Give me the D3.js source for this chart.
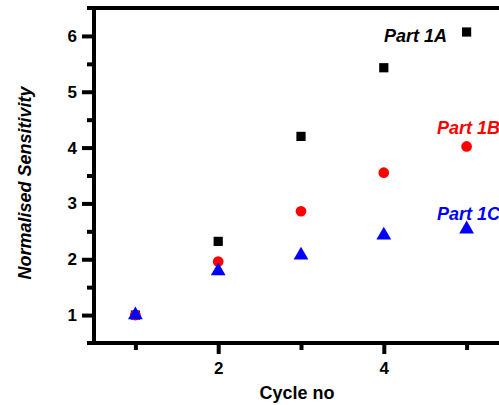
<!DOCTYPE html>
<html>
<head>
<meta charset="utf-8">
<script src="https://cdn.jsdelivr.net/npm/d3@7.9.0/dist/d3.min.js"></script>
<style>
  body { margin: 0; background: #fff; }
  text { font-family: "Liberation Sans", Arial, sans-serif; font-weight: bold; }
</style>
</head>
<body>
<svg id="chart" width="499" height="405"></svg>
<script>
// data
const cycles = [1, 2, 3, 4, 5];
const part1A = [1.0, 2.32, 4.2, 5.43, 6.07];
const part1B = [1.0, 1.96, 2.86, 3.55, 4.02];
const part1C = [1.0, 1.79, 2.07, 2.43, 2.54];
const seriesNames = ['Part 1A', 'Part 1B', 'Part 1C'];
const seriesColors = ['#000000', '#ff0000', '#0000ff'];
const yTicks = [1, 2, 3, 4, 5, 6];
const xTicks = [2, 4];

const svg = d3.select('#chart');
const mLeft = 94, mTop = 8, mBottom = 343, mRight = 508;
const lw = 4;

const x = d3.scaleLinear().domain([0.5, 5.5]).range([mLeft, mRight]);
const y = d3.scaleLinear().domain([0.5, 6.5]).range([mBottom, mTop]);

function styleAxis(g) {
  g.selectAll('.domain').remove();
  g.selectAll('line').style('stroke', '#000').style('stroke-width', lw + 'px');
  g.selectAll('text').attr('fill', '#000')
    .style('font-family', '"Liberation Sans", Arial, sans-serif')
    .style('font-weight', 'bold')
    .style('font-size', '17px');
}

// y axis
const yAxis = svg.append('g').attr('transform', `translate(${mLeft},0)`);
yAxis.call(d3.axisLeft(y).tickValues(yTicks).tickSize(12).tickPadding(5).tickFormat(d3.format('d')));
yAxis.append('g').call(d3.axisLeft(y).tickValues(yTicks.slice(0, 5).map(d => d + 0.5)).tickSize(7).tickFormat(''));
styleAxis(yAxis);

// x axis
const xAxis = svg.append('g').attr('transform', `translate(0,${mBottom})`);
xAxis.call(d3.axisBottom(x).tickValues(xTicks).tickSize(11).tickPadding(8).tickFormat(d3.format('d')));
xAxis.append('g').call(d3.axisBottom(x).tickValues([1, 3, 5]).tickSize(7).tickFormat(''));
styleAxis(xAxis);

// frame lines as filled rects
svg.append('rect')
  .attr('x', mLeft - 7).attr('y', mTop - lw / 2)
  .attr('width', 499 - mLeft + 7).attr('height', lw).attr('fill', '#000');
svg.append('rect')
  .attr('x', mLeft - 7).attr('y', mBottom - lw / 2)
  .attr('width', 499 - mLeft + 7).attr('height', lw).attr('fill', '#000');
svg.append('rect')
  .attr('x', mLeft - lw / 2).attr('y', mTop - lw / 2)
  .attr('width', lw).attr('height', mBottom - mTop + lw).attr('fill', '#000');

// axis titles
svg.append('text')
  .attr('transform', `translate(31,${183}) rotate(-90)`)
  .attr('text-anchor', 'middle')
  .attr('font-size', 18)
  .attr('font-style', 'italic')
  .text('Normalised Sensitivity');

svg.append('text')
  .attr('x', 297).attr('y', 399)
  .attr('text-anchor', 'middle')
  .attr('font-size', 18)
  .text('Cycle no');

// markers
const symbols = [d3.symbolSquare, d3.symbolCircle, d3.symbolTriangle];
const sizes = [85, 90, 95];
const allSeries = [part1A, part1B, part1C];

allSeries.forEach((vals, i) => {
  svg.append('g').selectAll('path')
    .data(vals)
    .join('path')
    .attr('transform', (d, j) => `translate(${x(cycles[j])},${y(d)})`)
    .attr('d', d3.symbol().type(symbols[i]).size(sizes[i]))
    .attr('fill', seriesColors[i]);
});

// series labels
const labelPos = [[447, 42], [500, 134], [500, 220]];
seriesNames.forEach((name, i) => {
  svg.append('text')
    .attr('x', labelPos[i][0]).attr('y', labelPos[i][1])
    .attr('text-anchor', 'end')
    .attr('font-size', 18)
    .attr('font-style', 'italic')
    .attr('fill', seriesColors[i])
    .text(name);
});
</script>
</body>
</html>
